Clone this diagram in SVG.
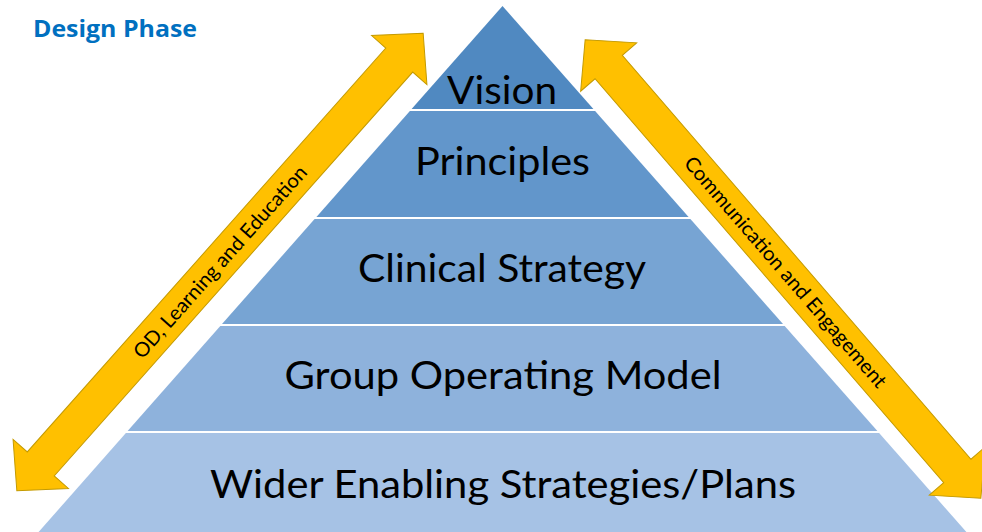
<svg xmlns="http://www.w3.org/2000/svg" width="982" height="532" viewBox="0 0 982 532">
  <style>
    .lbl { font-family: Lato, "Open Sans", "Liberation Sans", sans-serif; font-size: 39px; fill: #000; text-anchor: middle; }
    .alb { font-family: Lato, "Open Sans", "Liberation Sans", sans-serif; font-size: 20px; fill: #000; text-anchor: middle; }
    .arrow { fill: #FFC000; stroke: #C49A00; stroke-width: 1; stroke-linejoin: miter; }
    .title { font-family: "Open Sans", "Liberation Sans", sans-serif; font-weight: bold; font-size: 23px; fill: #0070C0; }
  </style>
  <rect width="982" height="532" fill="#ffffff"/>

  <text class="title" x="33" y="37" textLength="164" lengthAdjust="spacingAndGlyphs">Design Phase</text>

  <g id="vision">
    <polygon points="502.5,6 593.4,109 411.6,109" fill="#5089C1"/>
    <text class="lbl" x="502" y="104" textLength="110" lengthAdjust="spacingAndGlyphs">Vision</text>
  </g>
  <g id="principles">
    <polygon points="409.9,111 595.1,111 688.6,217 316.4,217" fill="#6296CB"/>
    <text class="lbl" x="502.5" y="175" textLength="175" lengthAdjust="spacingAndGlyphs">Principles</text>
  </g>
  <g id="clinical-strategy">
    <polygon points="314.6,219 690.4,219 783.0,324 222.0,324" fill="#77A4D3"/>
    <text class="lbl" x="502" y="282" textLength="288" lengthAdjust="spacingAndGlyphs">Clinical Strategy</text>
  </g>
  <g id="group-operating-model">
    <polygon points="220.3,326 784.7,326 877.4,431 127.6,431" fill="#8EB2DC"/>
    <text class="lbl" x="503" y="389" textLength="437" lengthAdjust="spacingAndGlyphs">Group Operating Model</text>
  </g>
  <g id="wider-enabling">
    <polygon points="125.9,433 879.1,433 966.4,532 38.6,532" fill="#A6C2E5"/>
    <text class="lbl" x="503" y="498" textLength="586" lengthAdjust="spacingAndGlyphs">Wider Enabling Strategies/Plans</text>
  </g>

  <g id="connectors">
    <g id="arrow-left" transform="translate(220,262) rotate(-48.4)">
      <polygon class="arrow" points="306,0 270,-37 270,-18 -270,-18 -270,-37 -306,0 -270,37 -270,18 270,18 270,37"/>
      <text class="alb" x="0" y="7" textLength="250" lengthAdjust="spacingAndGlyphs">OD, Learning and Education</text>
    </g>
    <g id="arrow-right" transform="translate(783,269) rotate(49.2)">
      <polygon class="arrow" points="302.8,0 266.8,-37 266.8,-18 -266.8,-18 -266.8,-37 -302.8,0 -266.8,37 -266.8,18 266.8,18 266.8,37"/>
      <text class="alb" x="4" y="7" textLength="298" lengthAdjust="spacingAndGlyphs">Communication and Engagement</text>
    </g>
  </g>
</svg>
